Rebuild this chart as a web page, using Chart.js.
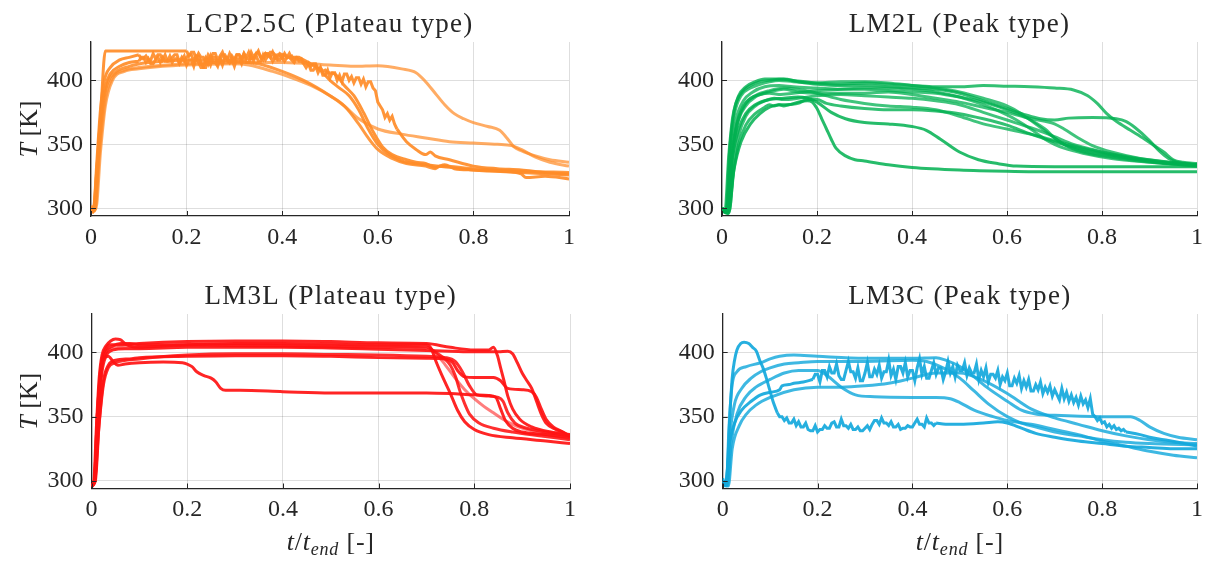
<!DOCTYPE html>
<html>
<head>
<meta charset="utf-8">
<script src="https://cdn.jsdelivr.net/npm/chart.js@4.4.1/dist/chart.umd.min.js"></script>
<style>
  body { margin: 0; background: #fff; width: 1210px; height: 563px; position: relative; overflow: hidden; }
  canvas { position: absolute; }
</style>
</head>
<body>
<canvas id="lcp" width="600" height="280" style="left:0;top:0"></canvas>
<canvas id="lm2l" width="600" height="280" style="left:610px;top:0"></canvas>
<canvas id="lm3l" width="600" height="283" style="left:0;top:280px"></canvas>
<canvas id="lm3c" width="600" height="283" style="left:610px;top:280px"></canvas>
<script>
// axis ticks shared by all four panels
const xTickValues = [0, 0.2, 0.4, 0.6, 0.8, 1];
const xTickLabels = ['0', '0.2', '0.4', '0.6', '0.8', '1'];
const yTickValues = [300, 350, 400];
const yTickLabels = ['300', '350', '400'];
const tRange = [0, 1];
const TRange = [294, 430];

// noisy stretches are sampled every JITTER_DT in t/t_end
const JITTER_DT = 0.005;

// ---- LCP2.5C : [t/t_end, T]  (null = the noisy stretch takes over) ----
const lcpA = [[0,300],[0.004,297],[0.01,318],[0.02,372],[0.03,423],[0.06,423],[0.1,423],[0.15,423],[0.2,423],[0.3,null],[0.44,417],[0.46,413],[0.48,408],[0.5,400],[0.52,394],[0.54,388],[0.56,377],[0.58,362],[0.6,350],[0.62,343],[0.65,337],[0.7,334],[0.75,332],[0.8,330],[0.9,328],[1,326]];
const lcpAJitterFrom = 0.2;
const lcpAJitter = [423,419,422,422,417,421,418,418,415,420, 417,421,421,416,419,422,417,417,414,419, 416,420,420,417,421,418,422,417,417,420, 423,418,416,421,421,418,422,417,420,420, 417,421,418,418,419,416,418,418,417];
const lcpB = [[0,302],[0.006,299],[0.012,330],[0.02,370],[0.03,395],[0.04,405],[0.06,411],[0.08,414],[0.1,415],[0.3,null],[0.64,362],[0.66,352],[0.68,346],[0.7,342],[0.71,344],[0.72,341],[0.75,338],[0.8,333],[0.85,331],[0.9,330],[0.95,328],[1,327]];
const lcpBJitterFrom = 0.1;
const lcpBJitter = [415,418,418,414,417,413,413,416,418,414, 418,415,415,419,414,417,417,413,416,419, 412,416,416,411,418,414,410,410,417,413, 419,414,414,411,417,412,418,418,414,416, 411,417,417,413,419,414,414,419,415,420, 415,415,420,416,419,419,415,419,416,416, 419,415,418,418,416,414,417,415,415,413, 410,413,408,408,411,406,410,404,404,408, 402,406,406,400,404,399,405,405,400,403, 398,402,402,397,401,395,399,399,394,392, 383,380,377,371,374,369,372,366,362];
const lcpC = [[0,300],[0.008,298],[0.016,340],[0.025,380],[0.035,398],[0.05,406],[0.08,411],[0.12,414],[0.2,416],[0.3,415],[0.35,413],[0.4,407],[0.45,399],[0.5,388],[0.53,380],[0.56,366],[0.58,355],[0.6,346],[0.63,339],[0.66,335],[0.7,333],[0.72,331],[0.73,333],[0.8,331],[0.9,329],[1,328]];
const lcpD = [[0,300],[0.01,299],[0.02,345],[0.03,380],[0.045,400],[0.07,407],[0.1,409],[0.15,411],[0.2,412],[0.3,413],[0.33,412],[0.38,407],[0.42,402],[0.46,396],[0.5,388],[0.53,380],[0.56,370],[0.6,362],[0.65,358],[0.7,355],[0.75,352],[0.8,351],[0.85,350],[0.88,349],[0.9,346],[0.93,340],[0.96,336],[1,333]];
const lcpE = [[0,300],[0.008,299],[0.018,345],[0.03,385],[0.045,402],[0.07,408],[0.1,410],[0.2,413],[0.3,414],[0.4,414],[0.5,412],[0.55,411],[0.6,411.5],[0.65,409],[0.68,406],[0.7,399],[0.72,390],[0.74,381],[0.76,374],[0.78,370],[0.8,367],[0.83,364],[0.855,361],[0.87,355],[0.885,348],[0.9,345],[0.93,341],[0.96,338],[1,336]];
const lcpF = [[0,300],[0.005,297],[0.012,335],[0.02,378],[0.028,400],[0.04,410],[0.06,416],[0.08,418],[0.1,420],[0.3,null],[0.5,406],[0.51,405],[0.52,401],[0.53,396],[0.55,388],[0.57,375],[0.59,360],[0.61,348],[0.63,342],[0.66,338],[0.68,336],[0.7,335],[0.72,332],[0.74,334],[0.76,331],[0.8,330],[0.86,329],[0.9,327],[0.91,324],[0.95,325],[1,323]];
const lcpFJitterFrom = 0.1;
const lcpFJitter = [420,417,417,419,416,416,421,417,420,420, 416,420,415,415,418,420,420,414,418,415, 418,420,420,415,419,419,414,410,410,416, 412,418,418,413,416,420,420,416,421,417, 416,420,420,416,421,417,417,422,418,421, 422,418,418,421,419,422,422,420,417,421, 420,420,418,421,417,418,418,416,417,414, 414,412,411,413,413,409,410,407,408,406, 406];

// ---- LM2L ----
const lm2lA = [[0,298],[0.012,296],[0.025,330],[0.04,352],[0.06,366],[0.08,374],[0.1,379],[0.12,381],[0.14,381],[0.16,383],[0.18,384],[0.19,383],[0.2,378],[0.21,370],[0.22,362],[0.23,354],[0.24,347],[0.26,341],[0.28,338],[0.3,337],[0.35,334],[0.4,332],[0.5,330],[0.6,329],[0.7,328.5],[0.8,328.5],[1,328.5]];
const lm2lB = [[0,300],[0.01,297],[0.022,340],[0.035,362],[0.05,374],[0.07,381],[0.1,385],[0.13,386],[0.16,387],[0.18,386],[0.2,383],[0.23,375],[0.26,370],[0.3,367],[0.35,366],[0.4,364],[0.43,361],[0.46,354],[0.5,344],[0.54,338],[0.58,335],[0.62,333],[0.7,332.5],[0.8,332.5],[1,332.5]];
const lm2lC = [[0,300],[0.008,297],[0.016,345],[0.025,375],[0.035,388],[0.05,395],[0.07,399],[0.09,401],[0.12,401],[0.15,400],[0.2,398],[0.25,397],[0.3,398],[0.35,397],[0.4,396],[0.45,395],[0.5,395],[0.55,396],[0.6,395.5],[0.65,395],[0.7,394],[0.74,392.5],[0.77,388],[0.79,382],[0.81,374],[0.83,368],[0.86,361],[0.89,354],[0.91,349],[0.93,344],[0.95,338],[0.97,336],[1,335]];
const lm2lD = [[0,300],[0.006,297],[0.014,340],[0.022,370],[0.03,383],[0.045,392],[0.06,396],[0.08,399],[0.1,400],[0.13,401],[0.16,399],[0.2,397],[0.25,396],[0.3,396],[0.35,395],[0.4,394],[0.45,393],[0.5,390],[0.55,384],[0.6,378],[0.64,373],[0.67,370],[0.7,369],[0.73,370.5],[0.78,371],[0.83,370],[0.85,368],[0.87,363],[0.9,353],[0.92,345],[0.94,339],[0.97,335],[1,334]];
const lm2lE = [[0,300],[0.01,298],[0.018,350],[0.027,375],[0.04,388],[0.06,394],[0.08,397],[0.1,399],[0.12,400],[0.15,399],[0.2,398],[0.25,399],[0.3,399],[0.35,398],[0.4,396],[0.45,394],[0.5,391],[0.55,386],[0.6,380],[0.63,374],[0.66,366],[0.7,355],[0.73,348],[0.77,343],[0.82,340],[0.88,337],[0.94,335],[1,334]];
const lm2lF = [[0,300],[0.008,297],[0.02,345],[0.03,370],[0.045,384],[0.065,391],[0.09,395],[0.12,396],[0.15,395],[0.2,394],[0.25,393],[0.3,393],[0.35,392],[0.4,391],[0.45,390],[0.5,387],[0.55,383],[0.6,377],[0.64,371],[0.68,362],[0.7,355],[0.72,350],[0.76,345],[0.8,342],[0.86,339],[0.92,336],[1,334]];
const lm2lG = [[0,300],[0.012,297],[0.022,340],[0.032,365],[0.05,380],[0.07,387],[0.1,391],[0.13,393],[0.16,391],[0.2,390],[0.25,390],[0.3,390],[0.35,391],[0.4,389],[0.45,386],[0.5,383],[0.55,379],[0.6,375],[0.64,371],[0.68,368],[0.7,366],[0.72,362],[0.75,355],[0.78,349],[0.82,344],[0.88,339],[0.94,336],[1,334]];
const lm2lH = [[0,300],[0.015,297],[0.025,335],[0.035,357],[0.05,372],[0.07,380],[0.09,384],[0.11,386],[0.13,385],[0.16,386],[0.2,388],[0.25,389],[0.3,388],[0.35,387],[0.4,386],[0.45,384],[0.5,381],[0.55,375],[0.6,369],[0.65,363],[0.68,359],[0.7,356],[0.74,350],[0.78,346],[0.82,342],[0.88,338],[0.94,335],[1,333]];
const lm2lI = [[0,299],[0.014,296],[0.025,330],[0.035,350],[0.05,365],[0.07,374],[0.09,379],[0.1,381],[0.11,380],[0.12,381],[0.13,380],[0.14,381],[0.16,382],[0.18,385],[0.2,385],[0.22,382],[0.25,380],[0.3,378],[0.35,377],[0.4,377],[0.45,376],[0.5,374],[0.55,370],[0.6,365],[0.65,358],[0.7,352],[0.75,347],[0.8,343],[0.86,339],[0.92,336],[1,334]];
const lm2lJ = [[0,300],[0.01,297],[0.02,340],[0.03,365],[0.045,380],[0.06,386],[0.08,389],[0.1,390],[0.12,389],[0.15,390],[0.2,392],[0.25,393],[0.3,394],[0.35,394],[0.4,393],[0.45,391],[0.5,387],[0.55,381],[0.6,373],[0.62,369],[0.65,362],[0.68,354],[0.7,350],[0.72,347],[0.76,343],[0.82,339],[0.9,336],[1,333]];
const lm2lK = [[0,300],[0.01,298],[0.022,345],[0.035,370],[0.05,382],[0.07,388],[0.1,392],[0.13,394],[0.16,393],[0.2,390],[0.25,385],[0.3,382],[0.35,380],[0.4,379],[0.45,377],[0.5,372],[0.55,366],[0.6,362],[0.65,358],[0.7,353],[0.75,348],[0.8,344],[0.86,340],[0.92,337],[1,334]];

// ---- LM3L ----
const lm3lA = [[0,295],[0.005,300],[0.01,340],[0.016,380],[0.022,398],[0.03,405],[0.04,409],[0.05,410.5],[0.06,410],[0.07,407],[0.08,405],[0.1,404],[0.15,405],[0.2,406],[0.3,407],[0.4,407],[0.5,406.5],[0.6,406],[0.65,406],[0.7,406],[0.71,403],[0.72,393],[0.735,380],[0.75,368],[0.765,355],[0.78,346],[0.8,340],[0.83,336],[0.88,333.5],[0.95,331],[1,329]];
const lm3lB = [[0,296],[0.006,300],[0.012,350],[0.02,390],[0.03,403],[0.04,406],[0.06,406],[0.1,407],[0.2,408.5],[0.3,409],[0.4,409],[0.5,408.5],[0.6,407.5],[0.7,407],[0.75,404],[0.8,402],[0.83,402],[0.84,404],[0.848,398],[0.855,388],[0.862,378],[0.87,366],[0.88,356],[0.895,348],[0.92,342],[0.96,338],[1,336]];
const lm3lC = [[0,297],[0.007,300],[0.014,350],[0.022,385],[0.03,397],[0.045,402],[0.07,403],[0.1,403],[0.2,404],[0.3,404],[0.4,404],[0.5,403.5],[0.6,402.5],[0.7,401.5],[0.75,401],[0.8,400.5],[0.85,400.5],[0.87,401],[0.88,399],[0.89,392],[0.9,384],[0.91,378],[0.92,372],[0.93,362],[0.94,352],[0.95,345],[0.97,340],[0.985,338],[1,334]];
const lm3lD = [[0,296],[0.008,300],[0.016,345],[0.025,378],[0.035,390],[0.05,394],[0.08,395],[0.1,396],[0.2,397],[0.3,397.5],[0.4,397.5],[0.5,397],[0.6,396],[0.7,395.5],[0.74,395],[0.755,392],[0.765,386],[0.78,381],[0.8,380.5],[0.84,380.5],[0.855,378],[0.87,372],[0.9,371],[0.92,369.5],[0.93,365],[0.94,356],[0.95,348],[0.965,342],[0.98,339],[1,335]];
const lm3lE = [[0,297],[0.007,300],[0.014,355],[0.022,390],[0.03,400],[0.04,403],[0.06,404],[0.1,405],[0.2,406],[0.3,406.5],[0.4,406],[0.5,405.5],[0.6,405],[0.7,403],[0.72,399],[0.74,390],[0.76,380],[0.78,371],[0.8,364],[0.82,358],[0.84,353],[0.86,348],[0.88,344],[0.9,341],[0.94,337],[1,333]];
const lm3lF = [[0,296],[0.006,300],[0.013,345],[0.02,385],[0.03,400],[0.045,405],[0.06,407],[0.08,407],[0.1,406],[0.2,406],[0.3,405.5],[0.4,405],[0.5,404.5],[0.6,404],[0.7,404],[0.72,400],[0.735,396],[0.75,390],[0.76,382],[0.77,370],[0.78,360],[0.79,352],[0.81,345],[0.84,341],[0.88,338],[0.94,335],[1,332]];
const lm3lG = [[0,296],[0.007,300],[0.015,340],[0.025,375],[0.035,388],[0.05,392],[0.1,395],[0.2,398],[0.3,399],[0.4,399],[0.5,398.5],[0.6,398],[0.7,397],[0.74,396],[0.76,393],[0.775,385],[0.79,374],[0.805,367],[0.83,366],[0.85,365],[0.86,362],[0.87,353],[0.885,345],[0.91,341],[0.95,338],[1,335]];
const lm3lH = [[0,296],[0.006,300],[0.012,350],[0.018,380],[0.025,395],[0.035,397],[0.045,393],[0.055,390],[0.07,391],[0.1,392],[0.15,392.5],[0.19,392],[0.2,391],[0.21,389],[0.22,385],[0.235,382],[0.25,380],[0.26,377],[0.27,372],[0.28,370.5],[0.31,370.5],[0.4,369.5],[0.5,368.5],[0.6,368.5],[0.7,368.5],[0.75,368],[0.8,367],[0.83,366.5],[0.845,365],[0.855,356],[0.865,347],[0.88,341],[0.9,338],[0.95,336],[1,334]];

// ---- LM3C ----
const lm3cA = [[0,302],[0.005,296],[0.01,310],[0.015,350],[0.02,380],[0.025,394],[0.03,402],[0.038,407],[0.045,408],[0.055,407],[0.063,404],[0.071,401],[0.078,394],[0.085,388],[0.092,380],[0.099,371],[0.106,362],[0.113,355],[0.115,353],[0.3,null],[0.45,345],[0.47,344],[0.5,344],[0.55,345],[0.58,346],[0.6,345],[0.63,341],[0.66,337],[0.7,334],[0.75,331],[0.8,329],[0.85,327],[0.9,326],[0.95,325],[1,325]];
const lm3cAJitterFrom = 0.115;
const lm3cAJitter = [353,350,350,347,349,345,345,348,343,346, 342,342,345,340,339,339,343,338,340,340, 343,341,341,345,346,342,342,348,343,343, 341,344,340,340,342,339,339,341,343,340, 344,347,347,344,349,345,345,343,346,342, 342,344,340,341,341,343,342,342,345,348, 344,344,342,349,345,345,343,345];
const lm3cB = [[0,300],[0.006,297],[0.015,330],[0.025,345],[0.04,355],[0.06,362],[0.08,367],[0.1,369],[0.12,371],[0.125,374],[0.14,375],[0.15,376],[0.17,377],[0.19,379],[0.5,null],[0.85,338],[0.88,336],[0.9,334],[0.93,332],[0.96,330],[1,327]];
const lm3cBJitterFrom = 0.19;
const lm3cBJitter = [379,383,383,377,386,386,381,389,384,384, 391,382,379,379,386,393,385,385,380,388, 378,378,384,392,381,381,387,383,390,380, 385,385,394,382,387,379,389,389,384,392, 381,386,386,378,388,395,383,389,380,380, 386,392,383,388,388,379,385,393,384,389, 381,390,386,386,392,382,388,384,384,391, 379,386,381,388,377,383,383,380,386,375, 381,378,384,374,374,380,376,382,372,378, 373,379,370,370,375,371,377,368,373,369, 374,366,371,367,363,372,364,369,362,367, 361,365,359,366,360,363,357,364, 352,350,347,349,345,346,342,344,341,343,340,341,339,340,338];
const lm3cC = [[0,300],[0.008,297],[0.013,340],[0.02,375],[0.03,385],[0.05,389],[0.08,392],[0.1,395],[0.12,397],[0.15,398],[0.2,397],[0.3,395.5],[0.4,395.5],[0.45,396],[0.47,394],[0.5,389],[0.53,381],[0.56,372],[0.6,362],[0.63,355],[0.66,352],[0.7,351],[0.8,350],[0.86,350],[0.88,347],[0.9,342],[0.93,337],[0.96,334],[1,332]];
const lm3cD = [[0,300],[0.008,296],[0.015,335],[0.025,360],[0.04,372],[0.06,380],[0.08,385],[0.1,388],[0.13,391],[0.16,392],[0.2,393],[0.3,393],[0.4,394],[0.43,393],[0.47,387],[0.5,380],[0.53,370],[0.56,360],[0.6,350],[0.63,345],[0.67,341],[0.7,338],[0.75,335],[0.8,332],[0.85,330],[0.9,329],[1,328]];
const lm3cE = [[0,300],[0.01,296],[0.018,330],[0.03,352],[0.05,366],[0.07,373],[0.1,379],[0.13,384],[0.16,386],[0.2,386],[0.22,382],[0.25,373],[0.28,367],[0.32,365.5],[0.4,365],[0.45,365],[0.48,364],[0.5,361],[0.53,355],[0.57,350],[0.6,347],[0.65,344],[0.7,340],[0.75,336],[0.8,331],[0.85,327],[0.9,323],[0.95,320],[1,318]];
const lm3cF = [[0,300],[0.012,296],[0.02,325],[0.035,343],[0.05,352],[0.07,359],[0.1,365],[0.15,371],[0.2,373],[0.25,373],[0.3,374],[0.35,376],[0.4,380],[0.45,384],[0.5,384],[0.55,378],[0.6,368],[0.65,356],[0.7,349],[0.75,344],[0.8,339],[0.85,335],[0.9,332],[0.95,330],[1,329]];

const FONT = '"Liberation Serif", "Times New Roman", serif';
const INK = '#262626';

function rgba(c, a) { return `rgba(${c[0]},${c[1]},${c[2]},${a})`; }

// draws a run of text pieces (italic / subscript) centred on x
function drawRich(ctx, parts, x, y) {
    let total = 0;
    parts.forEach(p => { ctx.font = p.font; total += ctx.measureText(p.text).width; });
    let cx = x - total / 2;
    parts.forEach(p => {
        ctx.font = p.font;
        ctx.fillText(p.text, cx, y + (p.dy || 0));
        cx += ctx.measureText(p.text).width;
    });
}

// titles, axis labels and the small inward tick marks
const panelText = {
    id: 'panelText',
    afterDraw(chart, args, o) {
        const { ctx, chartArea: a } = chart;
        ctx.save();
        ctx.fillStyle = INK;
        ctx.textBaseline = 'alphabetic';
        ctx.textAlign = 'left';

        ctx.letterSpacing = '1.3px';
        ctx.font = `27px ${FONT}`;
        const tw = ctx.measureText(o.title).width;
        ctx.fillText(o.title, (a.left + a.right) / 2 - tw / 2, o.titleY);
        ctx.letterSpacing = '0px';

        if (o.yLabel) {
            ctx.save();
            ctx.translate(o.yLabelX, (a.top + a.bottom) / 2);
            ctx.rotate(-Math.PI / 2);
            drawRich(ctx, [
                { text: 'T', font: `italic 26px ${FONT}` },
                { text: ' [K]', font: `26px ${FONT}` }
            ], 0, 0);
            ctx.restore();
        }
        if (o.xLabel) {
            ctx.letterSpacing = '0.8px';
            drawRich(ctx, [
                { text: 't', font: `italic 26px ${FONT}` },
                { text: '/', font: `26px ${FONT}` },
                { text: 't', font: `italic 26px ${FONT}` },
                { text: 'end', font: `italic 18px ${FONT}`, dy: 5 },
                { text: ' [-]', font: `26px ${FONT}` }
            ], (a.left + a.right) / 2, o.xLabelY);
            ctx.letterSpacing = '0px';
        }

        ctx.strokeStyle = INK;
        ctx.lineWidth = 1;
        ctx.beginPath();
        const xs = chart.scales.x, ys = chart.scales.y;
        xTickValues.forEach(v => {
            const px = Math.round(xs.getPixelForValue(v)) + 0.5;
            ctx.moveTo(px, a.bottom);
            ctx.lineTo(px, a.bottom - 5);
        });
        yTickValues.forEach(v => {
            const py = Math.round(ys.getPixelForValue(v)) + 0.5;
            ctx.moveTo(a.left, py);
            ctx.lineTo(a.left + 5, py);
        });
        ctx.stroke();
        ctx.restore();
    }
};

Chart.defaults.font.family = FONT;
Chart.defaults.font.size = 24;
Chart.defaults.color = INK;

function makePanel(id, opts) {
    const canvas = document.getElementById(id);
    const W = canvas.width, H = canvas.height;
    const datasets = [];
    opts.curves.forEach(c => {
        const color = rgba(opts.color, c.alpha);
        datasets.push({
            data: c.line.map(([x, y]) => ({ x, y })),
            borderColor: color,
            borderWidth: 3,
            pointRadius: 0,
            fill: false,
            spanGaps: false,
            cubicInterpolationMode: 'monotone'
        });
        if (c.jitter) {
            // noisy stretch: straight segments between the samples
            datasets.push({
                data: c.jitter.map((y, i) => ({ x: c.from + i * JITTER_DT, y })),
                borderColor: color,
                borderWidth: 3,
                borderJoinStyle: 'miter',
                pointRadius: 0,
                fill: false,
                tension: 0
            });
        }
    });
    new Chart(canvas.getContext('2d'), {
        type: 'line',
        data: { datasets },
        options: {
            responsive: false,
            animation: false,
            events: [],
            layout: { padding: { left: 0, top: opts.area.top, right: W - opts.area.right, bottom: 0 } },
            plugins: {
                legend: { display: false },
                tooltip: { enabled: false },
                panelText: opts.text
            },
            scales: {
                x: {
                    type: 'linear',
                    min: tRange[0], max: tRange[1],
                    afterBuildTicks: s => { s.ticks = xTickValues.map(value => ({ value })); },
                    afterFit: s => { s.height = H - opts.area.bottom; },
                    ticks: {
                        padding: 7,
                        maxRotation: 0,
                        callback: v => xTickLabels[xTickValues.indexOf(v)]
                    },
                    grid: { color: 'rgba(0,0,0,0.13)', lineWidth: 1, drawTicks: false },
                    border: { color: INK, width: 1.3 }
                },
                y: {
                    type: 'linear',
                    min: TRange[0], max: TRange[1],
                    afterBuildTicks: s => { s.ticks = yTickValues.map(value => ({ value })); },
                    afterFit: s => { s.width = opts.area.left; },
                    ticks: {
                        padding: 8,
                        callback: v => yTickLabels[yTickValues.indexOf(v)]
                    },
                    grid: { color: 'rgba(0,0,0,0.13)', lineWidth: 1, drawTicks: false },
                    border: { color: INK, width: 1.3 }
                }
            }
        },
        plugins: [panelText]
    });
}

makePanel('lcp', {
    curves: [
        { line: lcpD, alpha: 0.72 },
        { line: lcpE, alpha: 0.72 },
        { line: lcpC, alpha: 0.88 },
        { line: lcpB, jitter: lcpBJitter, from: lcpBJitterFrom, alpha: 0.92 },
        { line: lcpF, jitter: lcpFJitter, from: lcpFJitterFrom, alpha: 0.92 },
        { line: lcpA, jitter: lcpAJitter, from: lcpAJitterFrom, alpha: 0.92 }
    ],
    color: [255, 140, 40],
    area: { left: 91, right: 569, top: 42, bottom: 216 },
    text: { title: 'LCP2.5C (Plateau type)', titleY: 31.5, yLabel: true, yLabelX: 37 }
});

makePanel('lm2l', {
    curves: [
        { line: lm2lA, alpha: 0.85 }, { line: lm2lB, alpha: 0.85 }, { line: lm2lC, alpha: 0.8 },
        { line: lm2lD, alpha: 0.8 }, { line: lm2lE, alpha: 0.75 }, { line: lm2lF, alpha: 0.75 },
        { line: lm2lG, alpha: 0.75 }, { line: lm2lH, alpha: 0.75 }, { line: lm2lI, alpha: 0.8 },
        { line: lm2lJ, alpha: 0.75 }, { line: lm2lK, alpha: 0.75 }
    ],
    color: [0, 176, 80],
    area: { left: 112, right: 592, top: 42, bottom: 216 },
    text: { title: 'LM2L (Peak type)', titleY: 31.5 }
});

makePanel('lm3l', {
    curves: [
        { line: lm3lE, alpha: 0.55 }, { line: lm3lA, alpha: 0.92 }, { line: lm3lB, alpha: 0.92 },
        { line: lm3lC, alpha: 0.92 }, { line: lm3lD, alpha: 0.92 }, { line: lm3lF, alpha: 0.88 },
        { line: lm3lG, alpha: 0.88 }, { line: lm3lH, alpha: 0.92 }
    ],
    color: [255, 18, 18],
    area: { left: 91.5, right: 570, top: 34, bottom: 208.5 },
    text: { title: 'LM3L (Plateau type)', titleY: 23.5, yLabel: true, yLabelX: 37, xLabel: true, xLabelY: 270 }
});

makePanel('lm3c', {
    curves: [
        { line: lm3cC, alpha: 0.82 }, { line: lm3cD, alpha: 0.82 }, { line: lm3cE, alpha: 0.82 },
        { line: lm3cF, alpha: 0.82 },
        { line: lm3cA, jitter: lm3cAJitter, from: lm3cAJitterFrom, alpha: 0.92 },
        { line: lm3cB, jitter: lm3cBJitter, from: lm3cBJitterFrom, alpha: 0.92 }
    ],
    color: [20, 168, 220],
    area: { left: 112.7, right: 591.7, top: 34, bottom: 208.5 },
    text: { title: 'LM3C (Peak type)', titleY: 23.5, xLabel: true, xLabelY: 270 }
});
</script>
</body>
</html>
